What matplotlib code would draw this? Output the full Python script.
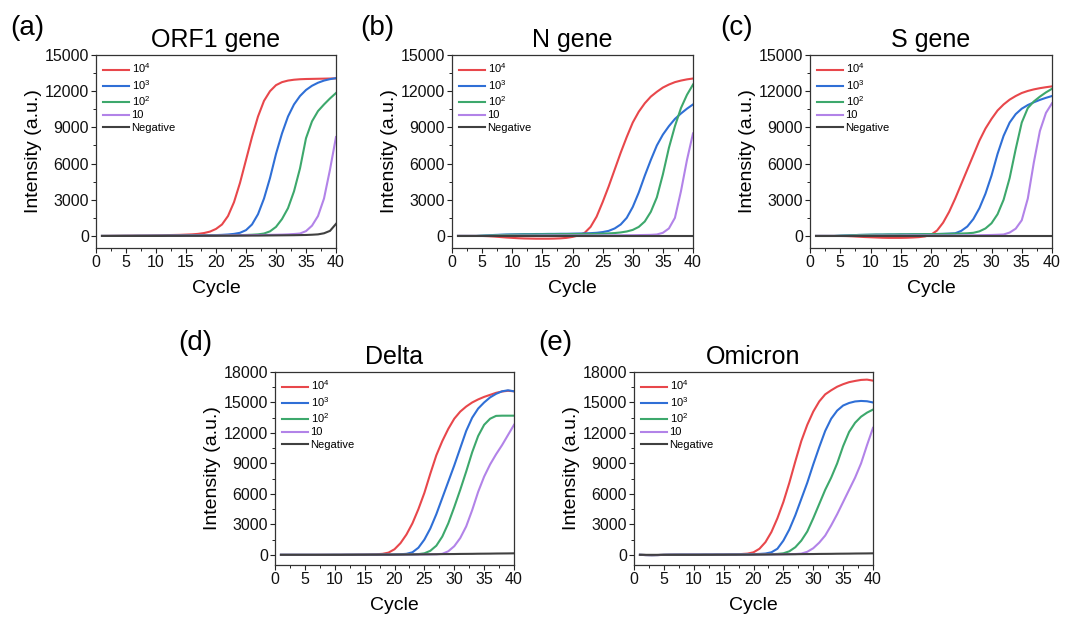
import matplotlib
matplotlib.use("Agg")
import matplotlib.pyplot as plt
from matplotlib.ticker import MultipleLocator

plt.rcParams["font.family"] = ["Liberation Sans", "DejaVu Sans"]
plt.rcParams["mathtext.fontset"] = "custom"
plt.rcParams["mathtext.rm"] = "Liberation Sans"
plt.rcParams["mathtext.it"] = "Liberation Sans:italic"
plt.rcParams["mathtext.bf"] = "Liberation Sans:bold"

cycles = list(range(1, 41))
series_labels = ["10$^4$", "10$^3$", "10$^2$", "10", "Negative"]
series_colors = ["#E8474B", "#2F6FD6", "#3DA86C", "#B283E8", "#404040"]

# ORF1 gene
orf1_1e4 = [0, 5, 10, 15, 20, 25, 30, 35, 40, 50, 60, 70, 80, 90, 110, 130, 170, 240, 360, 580,
            950, 1650, 2800, 4400, 6300, 8200, 9900, 11200, 12000, 12500,
            12750, 12880, 12950, 12990, 13010, 13020, 13030, 13040, 13050, 13060]
orf1_1e3 = [0, 0, 5, 5, 10, 10, 15, 15, 20, 20, 25, 25, 30, 30, 35, 40, 45, 50, 60, 70,
            90, 120, 170, 260, 480, 950, 1800, 3100, 4800, 6800,
            8500, 9900, 10900, 11600, 12100, 12450, 12700, 12880, 13000, 13080]
orf1_1e2 = [0, 0, 0, 5, 5, 5, 10, 10, 10, 15, 15, 20, 20, 25, 25, 30, 30, 35, 40, 45,
            50, 55, 60, 70, 80, 100, 130, 200, 380, 750,
            1400, 2300, 3700, 5600, 8100, 9500, 10350, 10900, 11400, 11850]
orf1_10 = [0, 0, 0, 0, 5, 5, 5, 10, 10, 10, 15, 15, 20, 20, 25, 25, 30, 30, 35, 40,
           45, 50, 55, 60, 65, 70, 75, 80, 90, 100,
           110, 130, 160, 200, 400, 850, 1650, 3100, 5500, 8200]
orf1_neg = [0, 0, 0, 0, 0, 0, 0, 0, 0, 0, 0, 5, 5, 5, 10, 10, 10, 15, 15, 15,
            20, 20, 20, 25, 25, 30, 30, 35, 40, 45,
            50, 55, 60, 70, 80, 100, 130, 220, 420, 1000]

# N gene
n_1e4 = [0, 0, 0, 0, 0, -20, -50, -90, -130, -160, -190, -210, -220, -230, -230, -230, -220, -200, -160, -80,
         40, 250, 750, 1600, 2800, 4100, 5500, 6900, 8200, 9400,
         10300, 11000, 11550, 11950, 12300, 12550, 12750, 12880, 12980, 13050]
n_1e3 = [0, 0, 0, 0, 20, 50, 80, 100, 120, 130, 140, 150, 150, 160, 160, 170, 170, 180, 180, 190,
         200, 210, 230, 260, 320, 420, 620, 950, 1500, 2400,
         3600, 5000, 6300, 7500, 8400, 9100, 9700, 10150, 10550, 10900]
n_1e2 = [0, 0, 0, 0, 20, 40, 60, 80, 90, 100, 110, 120, 120, 130, 130, 140, 140, 150, 150, 160,
         160, 170, 170, 180, 190, 210, 240, 290, 370, 500,
         750, 1200, 2000, 3200, 5100, 7300, 9100, 10600, 11700, 12550]
n_10 = [0, 0, 0, 0, 0, 10, 10, 20, 20, 20, 30, 30, 30, 30, 40, 40, 40, 40, 40, 40,
        40, 40, 40, 40, 40, 40, 50, 50, 60, 60,
        70, 80, 90, 120, 260, 620, 1500, 3700, 6300, 8500]
n_neg = [0, 0, 0, 0, 0, 0, 0, 0, 0, 0, 0, 0, 0, 0, 0, 0, 0, 0, 0, 0,
         0, 0, 0, 0, 0, 0, 0, 0, 0, 0, 0, 0, 0, 0, 0, 0, 0, 0, 0, 0]

# S gene
s_1e4 = [0, 0, 0, 0, 0, -10, -30, -60, -90, -110, -130, -150, -160, -160, -160, -150, -130, -100, -40, 100,
         450, 1100, 2000, 3100, 4300, 5500, 6700, 7900, 8900, 9700,
         10400, 10900, 11300, 11600, 11850, 12020, 12150, 12250, 12330, 12400]
s_1e3 = [0, 0, 0, 0, 20, 40, 60, 80, 90, 100, 110, 110, 120, 120, 130, 130, 140, 140, 150, 150,
         160, 170, 190, 220, 420, 780, 1400, 2300, 3500, 5000,
         6800, 8300, 9400, 10100, 10550, 10850, 11080, 11280, 11450, 11600]
s_1e2 = [0, 0, 0, 0, 20, 40, 60, 80, 90, 100, 110, 110, 120, 120, 130, 130, 140, 140, 150, 150,
         160, 170, 180, 190, 200, 220, 260, 380, 620, 1050,
         1800, 3000, 4800, 7200, 9400, 10600, 11150, 11550, 11900, 12200]
s_10 = [0, 0, 0, 0, 0, 10, 10, 20, 20, 20, 30, 30, 30, 30, 30, 40, 40, 40, 40, 40,
        40, 40, 40, 40, 40, 50, 50, 60, 70, 80,
        100, 120, 280, 600, 1300, 3100, 6100, 8700, 10200, 11000]
s_neg = [0, 0, 0, 0, 0, 0, 0, 0, 0, 0, 0, 0, 0, 0, 0, 0, 0, 0, 0, 0,
         0, 0, 0, 0, 0, 0, 0, 0, 0, 0, 0, 0, 0, 0, 0, 0, 0, 0, 0, 0]

# Delta variant
d_1e4 = [0, 0, 0, 0, 0, 0, 0, 5, 5, 10, 10, 15, 20, 25, 30, 40, 60, 100, 220, 550,
         1150, 2000, 3100, 4500, 6100, 8000, 9800, 11200, 12400, 13400,
         14100, 14600, 15000, 15300, 15550, 15750, 15950, 16080, 16150, 16100]
d_1e3 = [0, 0, 0, 0, 0, 0, 0, 0, 5, 5, 5, 10, 10, 10, 15, 15, 20, 20, 30, 40,
         60, 100, 250, 700, 1500, 2600, 4000, 5600, 7200, 8800,
         10500, 12200, 13500, 14400, 15000, 15500, 15850, 16100, 16200, 16100]
d_1e2 = [0, 0, 0, 0, 0, 0, 0, 0, 0, 5, 5, 5, 10, 10, 10, 15, 15, 20, 20, 25,
         30, 40, 50, 70, 150, 400, 900, 1800, 3100, 4700,
         6400, 8200, 10100, 11700, 12800, 13400, 13680, 13700, 13700, 13700]
d_10 = [0, 0, 0, 0, 0, 0, 0, 0, 0, 0, 5, 5, 5, 10, 10, 10, 15, 15, 20, 20,
        25, 30, 35, 40, 45, 50, 60, 100, 350, 850,
        1650, 2800, 4400, 6200, 7700, 8900, 9900, 10800, 11800, 12800]
d_neg = [0, 0, 0, 0, 0, 0, 0, 0, 0, 0, 0, 5, 5, 10, 10, 15, 15, 20, 20, 25,
         30, 35, 40, 45, 50, 55, 60, 70, 75, 80,
         90, 95, 100, 110, 115, 120, 130, 135, 140, 150]

# Omicron variant
o_1e4 = [0, -20, -30, -20, 0, 10, 20, 20, 20, 25, 25, 30, 30, 35, 40, 50, 60, 80, 120, 250,
         600, 1250, 2250, 3600, 5200, 7100, 9200, 11200, 12800, 14100,
         15100, 15800, 16200, 16550, 16800, 17000, 17120, 17220, 17250, 17150]
o_1e3 = [0, -20, -30, -20, 0, 10, 15, 20, 20, 20, 25, 25, 30, 30, 35, 40, 45, 50, 60, 70,
         90, 130, 250, 600, 1400, 2500, 3900, 5500, 7100, 8900,
         10600, 12200, 13400, 14200, 14700, 14950, 15100, 15150, 15120, 15000]
o_1e2 = [0, -20, -30, -20, 0, 10, 15, 20, 20, 20, 20, 25, 25, 30, 30, 35, 35, 40, 40, 45,
         50, 60, 70, 90, 150, 350, 750, 1400, 2300, 3600,
         5000, 6400, 7600, 9000, 10700, 12100, 13000, 13600, 14000, 14300]
o_10 = [0, -20, -30, -20, 0, 10, 15, 15, 20, 20, 20, 20, 25, 25, 30, 30, 30, 35, 35, 40,
        40, 45, 50, 55, 60, 70, 80, 120, 300, 650,
        1200, 1900, 2900, 4000, 5200, 6400, 7600, 9000, 10800, 12500]
o_neg = [0, 0, 0, 0, 0, 0, 0, 0, 0, 0, 0, 5, 5, 10, 10, 15, 15, 20, 20, 25,
         30, 35, 40, 45, 50, 55, 60, 70, 75, 80,
         90, 95, 100, 110, 115, 120, 130, 135, 140, 150]

panel_tags = ["(a)", "(b)", "(c)", "(d)", "(e)"]
panel_titles = ["ORF1 gene", "N gene", "S gene", "Delta", "Omicron"]
panel_data = [
    [orf1_1e4, orf1_1e3, orf1_1e2, orf1_10, orf1_neg],
    [n_1e4, n_1e3, n_1e2, n_10, n_neg],
    [s_1e4, s_1e3, s_1e2, s_10, s_neg],
    [d_1e4, d_1e3, d_1e2, d_10, d_neg],
    [o_1e4, o_1e3, o_1e2, o_10, o_neg],
]
panel_ymax = [15000, 15000, 15000, 18000, 18000]

W, H = 1066, 622
# axes boxes in pixels: left, top, right, bottom
boxes = [(96, 55, 336, 248), (452, 55, 693, 248), (810, 55, 1052, 248),
         (275, 372, 514, 565), (634, 372, 873, 565)]
tag_pos = [(10, 28), (360, 28), (720, 28), (178, 343), (538, 343)]

fig = plt.figure(figsize=(W / 100, H / 100), dpi=100)

for i in range(5):
    l, t, r, b = boxes[i]
    ax = fig.add_axes([l / W, 1 - b / H, (r - l) / W, (b - t) / H])
    for vals, lab, col in zip(panel_data[i], series_labels, series_colors):
        ax.plot(cycles, vals, color=col, lw=1.5, label=lab)
    ymax = panel_ymax[i]
    ax.set_xlim(0, 40)
    ax.set_ylim(-1000, ymax)
    ax.set_xticks(range(0, 41, 5))
    ax.xaxis.set_minor_locator(MultipleLocator(2.5))
    ax.set_yticks(range(0, ymax + 1, 3000))
    ax.yaxis.set_minor_locator(MultipleLocator(1500))
    ax.tick_params(which="major", direction="out", length=3.5, width=0.8,
                   labelsize=11.5, pad=1.5, colors="#222222", labelcolor="#111111")
    ax.tick_params(which="minor", direction="out", length=2, width=0.7, colors="#222222")
    for sp in ax.spines.values():
        sp.set_linewidth(0.9)
        sp.set_color("#333333")
    ax.set_xlabel("Cycle", fontsize=14)
    ax.set_ylabel("Intensity (a.u.)", fontsize=14)
    ax.xaxis.set_label_coords(0.5, -0.165)
    ax.yaxis.set_label_coords(-0.225, 0.5)
    ax.set_title(panel_titles[i], fontsize=18, pad=6)
    ax.legend(loc="upper left", fontsize=8, frameon=False, handlelength=2.4,
              labelspacing=0.22, borderaxespad=0.35, handletextpad=0.2,
              borderpad=0.25)
    tx, ty = tag_pos[i]
    fig.text(tx / W, 1 - ty / H, panel_tags[i], fontsize=20, ha="left", va="center")

fig.savefig("out.png", dpi=100, facecolor="white")
